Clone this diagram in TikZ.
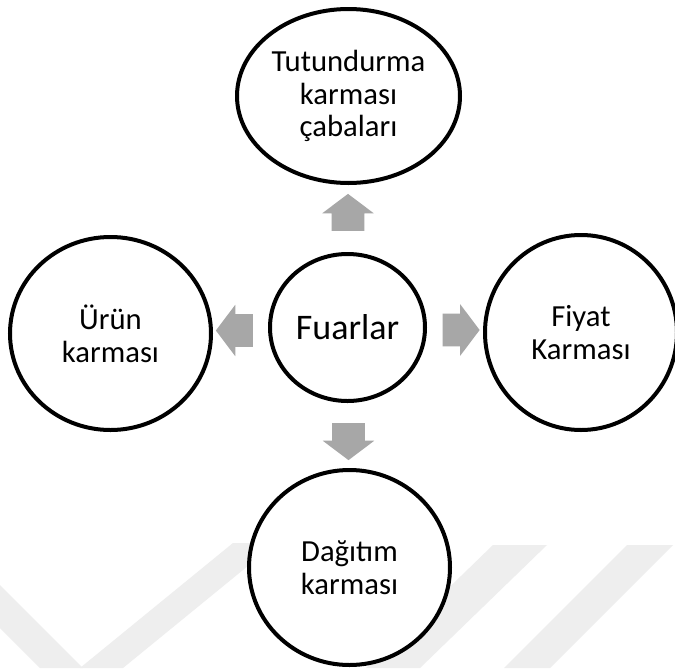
\documentclass[tikz,border=0pt]{standalone}
\usepackage{fontspec}
\setmainfont{Carlito}
\usetikzlibrary{shapes.geometric,shapes.arrows,calc}
\definecolor{arrowgray}{RGB}{167,167,167}
\definecolor{wmgray}{RGB}{238,238,238}
\begin{document}
\begin{tikzpicture}[x=0.75pt,y=-0.75pt,
  bubble/.style={ellipse, draw=black, line width=3pt, fill=white, align=center,
    inner sep=0pt, font=\fontsize{23}{24.5}\selectfont},
  hub/.style={bubble, font=\fontsize{27}{30}\selectfont},
  blockarrow/.style={single arrow, draw=none, fill=arrowgray, inner xsep=0pt,
    inner ysep=12pt, minimum height=27.75pt, single arrow head extend=7.1pt,
    single arrow tip angle=106, anchor=center}]
\useasboundingbox[fill=white] (0,0) rectangle (675,668);
% faint background bands
\fill[wmgray] (0,585) -- (83,668) -- (40,668) -- (0,628) -- cycle;
\fill[wmgray] (233,543) -- (276,543) -- (123,668) -- (80,668) -- cycle;
\fill[wmgray] (493,545) -- (547,545) -- (420,668) -- (366,668) -- cycle;
\fill[wmgray] (627,545) -- (673,545) -- (550,668) -- (504,668) -- cycle;
% the five bubbles
\node[hub, minimum width=116.25pt, minimum height=110.25pt] (hub) at (347.5,327.5) {Fuarlar};
\node[bubble, minimum width=167.25pt, minimum height=130.5pt] (top) at (348.5,96) {Tutundurma\\karması\\çabaları};
\node[bubble, minimum width=150.75pt, minimum height=144.75pt] (left) at (110.5,333.5) {Ürün\\karması};
\node[bubble, minimum width=144pt, minimum height=146.25pt] (right) at (581,332.5) {Fiyat\\Karması};
\node[bubble, minimum width=150.75pt, minimum height=146.25pt] (bottom) at (349.5,567.5) {Dağıtım\\karması};
% block arrows pointing outwards from the hub
\node[blockarrow, rotate=90] (aup) at ($(hub.north)!0.5!(top.south)$) {};
\node[blockarrow, rotate=180] (aleft) at ($(hub.west)!0.5!(left.east)$) {};
\node[blockarrow] (aright) at ($(hub.east)!0.5!(right.west)$) {};
\node[blockarrow, rotate=-90] (adown) at ($(hub.south)!0.5!(bottom.north)$) {};
\end{tikzpicture}
\end{document}
